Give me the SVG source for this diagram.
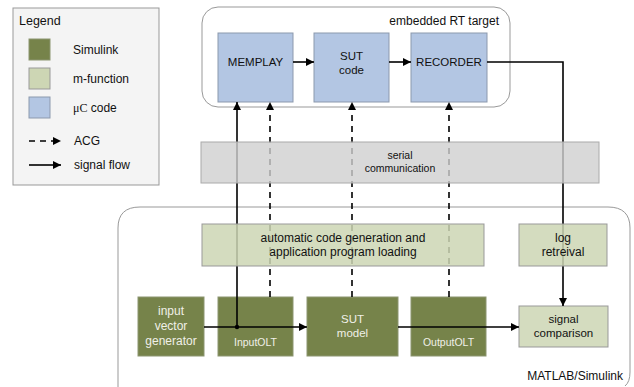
<svg xmlns="http://www.w3.org/2000/svg" width="634" height="387" viewBox="0 0 634 387">
<defs>
<marker id="ah" viewBox="0 0 10 10" refX="10" refY="5" markerWidth="8" markerHeight="8" markerUnits="userSpaceOnUse" orient="auto"><path d="M0,0 L10,5 L0,10 z" fill="#000"/></marker>
</defs>
<style>
text{font-family:"Liberation Sans",Arial,sans-serif;font-size:11.5px;fill:#111}
.sim{fill:#76834a;stroke:#8c9570;stroke-width:1}
.wt{fill:#f0f0e8}
.mf{fill:#cdd6b4;fill-opacity:0.85;stroke:#999;stroke-width:1}
.uc{fill:#b3c6e3;stroke:#8c99ad;stroke-width:1}
.ser{fill:#cfcfcf;fill-opacity:0.8;stroke:#aaa;stroke-width:1}
.frame{fill:none;stroke:#999;stroke-width:1}
.sig{fill:none;stroke:#000;stroke-width:1.6}
.acg{fill:none;stroke:#000;stroke-width:1.6;stroke-dasharray:6,5}
.c{text-anchor:middle}
.lg{font-size:12px}
</style>
<rect x="0" y="0" width="634" height="387" fill="#fff"/>
<g id="legend">
<rect x="13" y="8" width="146" height="177" fill="#f4f4f4" stroke="#999"/>
<text x="19" y="25" style="font-size:12.5px">Legend</text>
<rect x="29" y="39" width="21" height="21" class="sim"/>
<text x="73" y="54" class="lg">Simulink</text>
<rect x="29" y="68" width="21" height="21" fill="#cdd6b4" stroke="#999"/>
<text x="73" y="83" class="lg">m-function</text>
<rect x="29" y="97" width="21" height="21" class="uc"/>
<text x="73" y="112" class="lg"><tspan style="font-family:'Liberation Serif',serif">μC</tspan> code</text>
<line x1="29" y1="141" x2="61" y2="141" class="acg" stroke-dasharray="5,3" marker-end="url(#ah)"/>
<text x="74" y="145" class="lg">ACG</text>
<line x1="29" y1="165" x2="61" y2="165" class="sig" marker-end="url(#ah)"/>
<text x="74" y="169" class="lg">signal flow</text>
</g>
<g id="rt-target">
<rect x="202" y="7" width="308" height="100" rx="16" class="frame"/>
<text x="499" y="25" style="text-anchor:end;font-size:12px">embedded RT target</text>
</g>
<g id="matlab">
<path d="M118,387 L118,228 Q118,207 140,207 L608,207 Q630,207 630,228 L630,372 Q630,382 625,386" class="frame"/>
<text x="623" y="380" style="text-anchor:end;font-size:12px">MATLAB/Simulink</text>
</g>
<g id="memplay"><rect x="218" y="33" width="75" height="69" class="uc"/><text x="255.5" y="66" class="c">MEMPLAY</text></g>
<g id="sut-code"><rect x="314" y="33" width="75" height="69" class="uc"/><text x="351.5" y="60" class="c">SUT</text><text x="351.5" y="74" class="c">code</text></g>
<g id="recorder"><rect x="411" y="33" width="76" height="69" class="uc"/><text x="449" y="66" class="c">RECORDER</text></g>
<g id="input-vector-generator"><rect x="138" y="297" width="66" height="59" class="sim"/><text x="171" y="315" class="c wt" style="font-size:12px">input</text><text x="171" y="330" class="c wt" style="font-size:12px">vector</text><text x="171" y="345" class="c wt" style="font-size:12px">generator</text></g>
<g id="inputolt"><rect x="218" y="297" width="75" height="59" class="sim"/><text x="255.5" y="346" class="c wt" style="font-size:10.5px">InputOLT</text></g>
<g id="sut-model"><rect x="307" y="297" width="91" height="59" class="sim"/><text x="352.5" y="323" class="c wt">SUT</text><text x="352.5" y="337" class="c wt">model</text></g>
<g id="outputolt"><rect x="411" y="297" width="75" height="59" class="sim"/><text x="448.5" y="346" class="c wt" style="font-size:10.5px">OutputOLT</text></g>
<g id="signal-comparison"><rect x="519" y="306" width="89" height="41" class="mf"/><text x="563.5" y="323" class="c">signal</text><text x="563.5" y="337" class="c">comparison</text></g>
<g id="connectors">
<line x1="293" y1="62" x2="314" y2="62" class="sig" marker-end="url(#ah)"/>
<line x1="389" y1="62" x2="411" y2="62" class="sig" marker-end="url(#ah)"/>
<polyline points="487,62 563,62 563,306" class="sig" marker-end="url(#ah)"/>
<line x1="204" y1="327" x2="307" y2="327" class="sig" marker-end="url(#ah)"/>
<line x1="398" y1="327" x2="519" y2="327" class="sig" marker-end="url(#ah)"/>
<line x1="237" y1="327" x2="237" y2="102" class="sig" marker-end="url(#ah)"/>
<circle cx="237" cy="327" r="2.2" fill="#000"/>
<line x1="270" y1="297" x2="270" y2="102" class="acg" marker-end="url(#ah)"/>
<line x1="352" y1="297" x2="352" y2="102" class="acg" marker-end="url(#ah)"/>
<line x1="449" y1="297" x2="449" y2="102" class="acg" marker-end="url(#ah)"/>
</g>
<g id="serial-communication"><rect x="201" y="142" width="398" height="41" class="ser"/><text x="400" y="159" class="c" style="font-size:10.5px">serial</text><text x="400" y="172" class="c" style="font-size:10.5px">communication</text></g>
<g id="acg-loading"><rect x="202" y="224" width="282" height="42" class="mf"/><text x="343" y="242" class="c" style="font-size:12px">automatic code generation and</text><text x="343" y="256" class="c" style="font-size:12px">application program loading</text></g>
<g id="log-retreival"><rect x="519" y="224" width="88" height="42" class="mf"/><text x="563" y="242" class="c" style="font-size:12px">log</text><text x="563" y="256" class="c" style="font-size:12px">retreival</text></g>
</svg>
